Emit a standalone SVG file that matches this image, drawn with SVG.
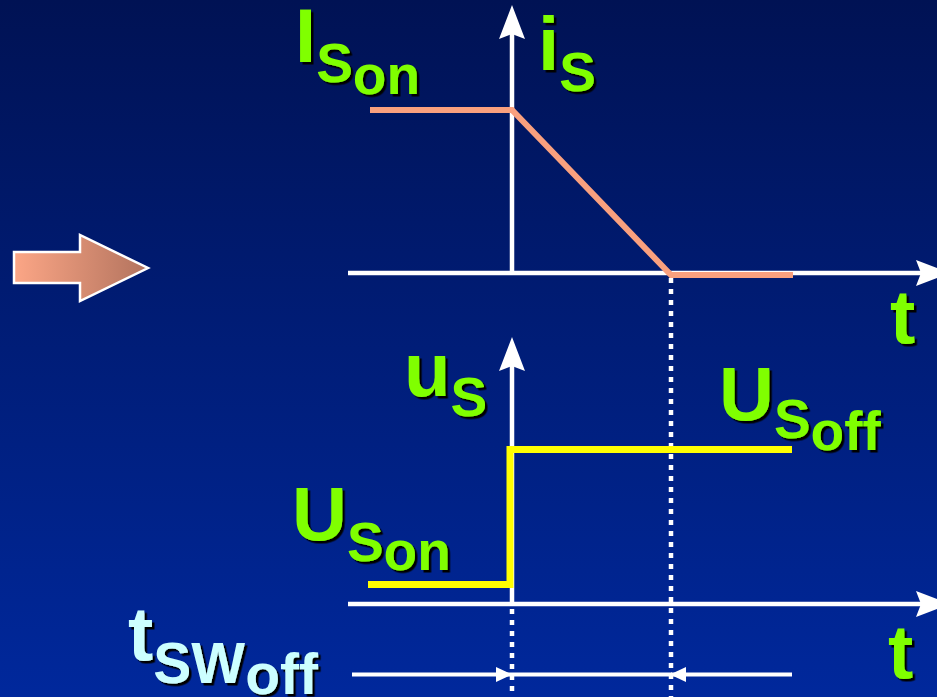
<svg xmlns="http://www.w3.org/2000/svg" width="937" height="697" viewBox="0 0 937 697">
  <defs>
    <linearGradient id="bg" x1="0" y1="0" x2="0" y2="1">
      <stop offset="0" stop-color="#001254"/>
      <stop offset="1" stop-color="#00289C"/>
    </linearGradient>
    <linearGradient id="arrowFill" x1="0" y1="0" x2="1" y2="0">
      <stop offset="0" stop-color="#FCA686"/>
      <stop offset="1" stop-color="#B2735E"/>
    </linearGradient>
    <filter id="shadow" x="-10%" y="-10%" width="130%" height="130%">
      <feDropShadow dx="2.5" dy="2.5" stdDeviation="0.4" flood-color="#000000" flood-opacity="1"/>
    </filter>
    <marker id="axisHead" markerUnits="userSpaceOnUse" markerWidth="40" markerHeight="30" viewBox="0 -15 40 30" refX="6" refY="0" orient="auto">
      <path d="M0,-13 L34,0 L0,13 L5,0 Z" fill="#FFFFFF"/>
    </marker>
    <marker id="dimHead" markerUnits="userSpaceOnUse" markerWidth="18" markerHeight="18" viewBox="0 -9 18 18" refX="15" refY="0" orient="auto">
      <path d="M0,-7.5 L16,0 L0,7.5 Z" fill="#FFFFFF"/>
    </marker>
  </defs>
  <style>
    .axis { stroke: #FFFFFF; stroke-width: 4.5; fill: none; }
    .dotted { stroke: #FFFFFF; stroke-width: 4.5; stroke-dasharray: 5 6; fill: none; }
    .dim { stroke: #FFFFFF; stroke-width: 4; fill: none; }
    .current { stroke: #F9A07E; stroke-width: 6; fill: none; stroke-linejoin: miter; }
    .voltage { stroke: #FFFF00; stroke-width: 7; fill: none; stroke-linejoin: miter; }
    .lbl { font-family: "Liberation Sans", Arial, sans-serif; font-weight: bold; fill: #80FF00; filter: url(#shadow); }
    .lbl2 { font-family: "Liberation Sans", Arial, sans-serif; font-weight: bold; fill: #CCFFFF; filter: url(#shadow); }
    .main { font-size: 76px; }
    .sub { font-size: 55px; }
  </style>

  <rect id="background" x="0" y="0" width="937" height="697" fill="url(#bg)"/>

  <g id="pointer-arrow">
    <polygon points="14,252 80,252 80,235 148,268 80,301 80,283 14,283" fill="url(#arrowFill)" stroke="#FFFFFF" stroke-width="2.5" stroke-linejoin="miter"/>
  </g>

  <g id="connectors">
    <line class="axis" x1="512" y1="273" x2="512" y2="33" marker-end="url(#axisHead)"/>
    <line class="axis" x1="348" y1="273" x2="922" y2="273" marker-end="url(#axisHead)"/>
    <line class="axis" x1="512" y1="604" x2="512" y2="365" marker-end="url(#axisHead)"/>
    <line class="axis" x1="348" y1="604" x2="922" y2="604" marker-end="url(#axisHead)"/>
    <line class="dotted" x1="671" y1="278" x2="671" y2="697"/>
    <line class="dotted" x1="512" y1="609" x2="512" y2="697"/>
    <path class="dim" d="M352,674.5 H511" marker-end="url(#dimHead)"/>
    <path class="dim" d="M511,674.5 H672"/>
    <path class="dim" d="M792,674.5 H671" marker-end="url(#dimHead)"/>
  </g>

  <g id="current-waveform">
    <polyline class="current" points="370,110 512,110 671,275 793,275"/>
  </g>

  <g id="voltage-waveform">
    <polyline class="voltage" points="368,584.5 510,584.5 510,449.5 792,449.5"/>
  </g>

  <g id="label-ISon">
    <text class="lbl main" x="295" y="62">I<tspan class="sub" y="82">S</tspan><tspan class="sub" y="94">on</tspan></text>
  </g>
  <g id="label-iS">
    <text class="lbl main" x="538" y="70">i<tspan class="sub" y="91">S</tspan></text>
  </g>
  <g id="label-t-upper">
    <text class="lbl main" x="890" y="343">t</text>
  </g>
  <g id="label-uS">
    <text class="lbl main" x="404" y="396">u<tspan class="sub" y="416">S</tspan></text>
  </g>
  <g id="label-USoff">
    <text class="lbl main" x="719" y="420">U<tspan class="sub" y="438">S</tspan><tspan class="sub" y="450">off</tspan></text>
  </g>
  <g id="label-USon">
    <text class="lbl main" x="292" y="540">U<tspan class="sub" y="561">S</tspan><tspan class="sub" y="570">on</tspan></text>
  </g>
  <g id="label-t-lower">
    <text class="lbl main" x="888" y="678">t</text>
  </g>
  <g id="label-tSWoff">
    <text class="lbl2 main" x="128" y="660">t<tspan class="sub" y="683" style="font-size:57px">SW</tspan><tspan class="sub" y="694" style="font-size:57px">off</tspan></text>
  </g>
</svg>
